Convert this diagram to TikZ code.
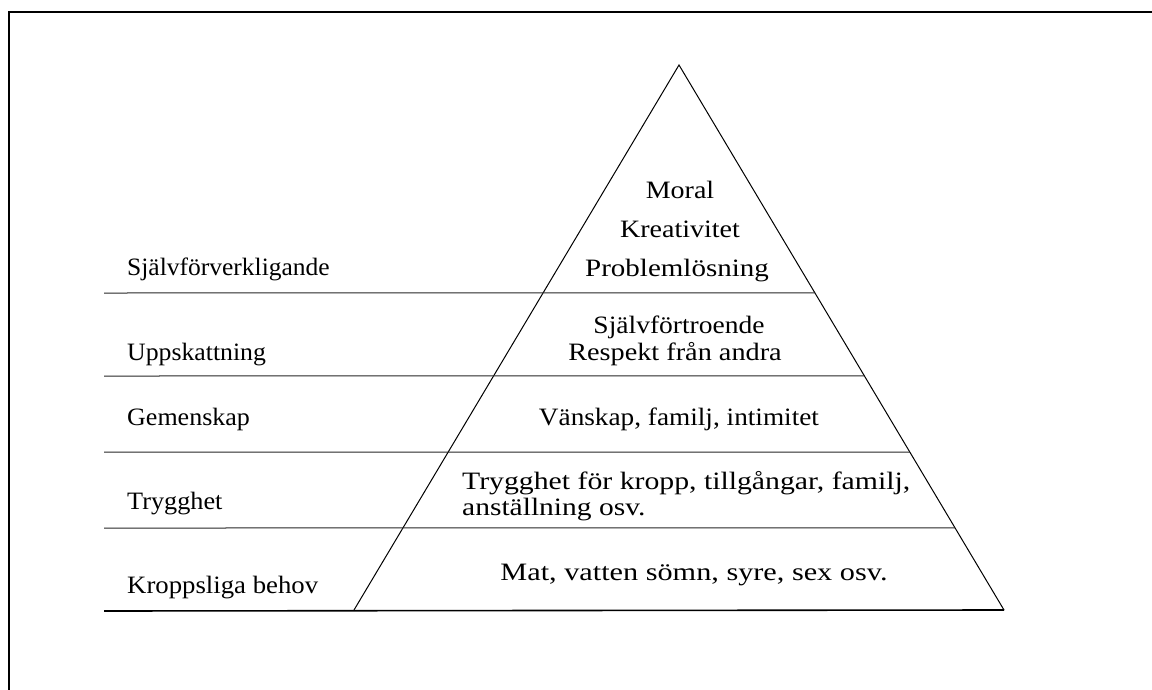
\documentclass[tikz,border=0pt]{standalone}
\usepackage{fontspec}
\setmainfont{Liberation Serif}
\usetikzlibrary{calc}
\newcommand{\hstretch}[2]{\scalebox{#1}[1]{#2}}
\begin{document}
\begin{tikzpicture}[x=1pt,y=-1pt,
  lbl/.style={anchor=base west,inner sep=0pt,font=\fontsize{25}{30}\selectfont},
  ctr/.style={anchor=base,inner sep=0pt,font=\fontsize{25}{30}\selectfont},
  tier/.style={line width=1pt,draw=black!85},
  frameline/.style={line width=2pt,line cap=rect}]
\useasboundingbox (0,0) rectangle (1152,690);
% frame (open on right and bottom)
\draw[frameline] (9,700) -- (9,12) -- (1160,12);
% triangle
\coordinate (A) at (679,65);
\coordinate (BL) at (354,610);
\coordinate (BR) at (1004,610);
\draw[line width=1pt,line join=miter] (BL) -- (A) -- (BR);
% tier lines
\coordinate (L1) at (104,293); \coordinate (R1) at ($(A)!0.4183!(BR)$);
\coordinate (L2) at (104,376); \coordinate (R2) at ($(A)!0.5706!(BR)$);
\coordinate (L3) at (104,452); \coordinate (R3) at ($(A)!0.7101!(BR)$);
\coordinate (L4) at (104,528); \coordinate (R4) at ($(A)!0.8495!(BR)$);
\coordinate (L5) at (104,611); \coordinate (R5) at (BR);
\draw[tier] (L1) -- (R1);
\draw[tier] (L2) -- (R2);
\draw[tier] (L3) -- (R3);
\draw[tier] (L4) -- (R4);
\draw[line width=1.6pt] (L5) -- (R5);
% left labels
\node[lbl] (t1) at (127,275) {\hstretch{1.02}{Självförverkligande}};
\node[lbl] (t2) at (127,360) {\hstretch{1.03}{Uppskattning}};
\node[lbl] (t3) at (127,425) {\hstretch{1.04}{Gemenskap}};
\node[lbl] (t4) at (127,509) {\hstretch{1.05}{Trygghet}};
\node[lbl] (t5) at (127,593) {\hstretch{1.07}{Kroppsliga behov}};
% right texts
\node[ctr] (m1) at (680,198) {\hstretch{1.12}{Moral}};
\node[ctr] (m2) at (680,237) {\hstretch{1.12}{Kreativitet}};
\node[ctr] (m3) at (677,276) {\hstretch{1.16}{Problemlösning}};
\node[ctr] (s1) at (679,333) {\hstretch{1.1}{Självförtroende}};
\node[ctr] (s2) at (675,360) {\hstretch{1.13}{Respekt från andra}};
\node[ctr] (v1) at (679,425) {\hstretch{1.09}{Vänskap, familj, intimitet}};
\node[lbl] (y1) at (462,489) {\hstretch{1.19}{Trygghet för kropp, tillgångar, familj,}};
\node[lbl] (y2) at (462,515) {\hstretch{1.18}{anställning osv.}};
\node[ctr] (k1) at (694,580) {\hstretch{1.21}{Mat, vatten sömn, syre, sex osv.}};
\end{tikzpicture}
\end{document}
